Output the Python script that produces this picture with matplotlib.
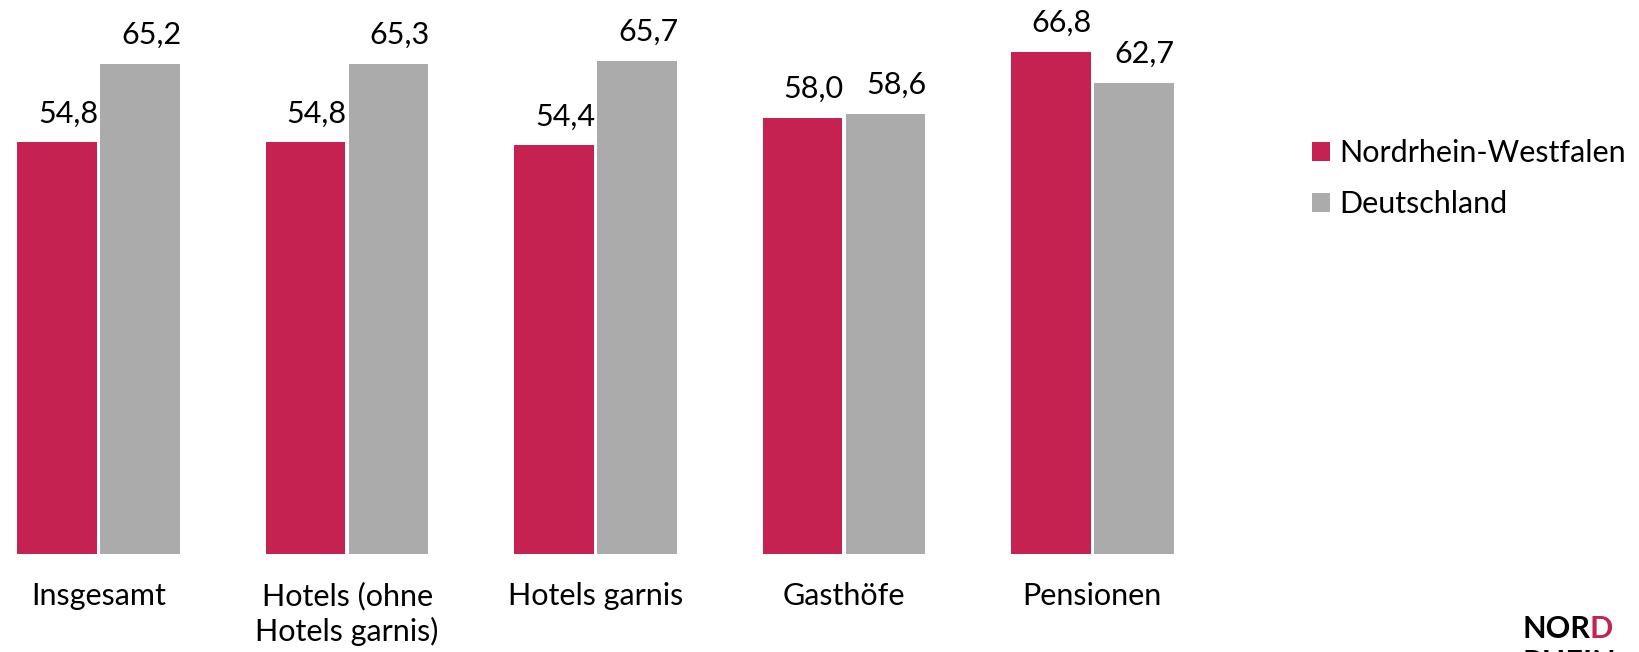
import matplotlib
matplotlib.use("Agg")
from matplotlib import pyplot as plt
import numpy as np

categories = ["Insgesamt", "Hotels (ohne\nHotels garnis)", "Hotels garnis", "Gasthöfe", "Pensionen"]
nrw = [54.8, 54.8, 54.4, 58.0, 66.8]
deutschland = [65.2, 65.3, 65.7, 58.6, 62.7]
series_names = ["Nordrhein-Westfalen", "Deutschland"]

colors = ["#C52252", "#ABABAB"]
plt.rcParams["font.family"] = ["Lato", "DejaVu Sans"]
plt.rcParams["font.size"] = 22

W, H, DPI = 1640, 652, 100
fig = plt.figure(figsize=(W / DPI, H / DPI), dpi=DPI)

# axes spans full width; x data mapped so group centres land where the reference has them
x0_px, step_px, base_px = 98.7, 248.4, 554
px_per_unit = 7.51
ax = fig.add_axes([0, (H - base_px) / H, 1, base_px / H])
ax.set_xlim(-x0_px / step_px, (W - x0_px) / step_px)
ax.set_ylim(0, base_px / px_per_unit)

x = np.arange(len(categories))
width = 0.32
off = 0.167
bars = []
for vals, dx, col, name in [(nrw, -off, colors[0], series_names[0]),
                            (deutschland, off, colors[1], series_names[1])]:
    b = ax.bar(x + dx, vals, width=width, color=col, label=name)
    bars.append(b)
    for xi, v in zip(x + dx, vals):
        ax.annotate(f"{v:.1f}".replace(".", ","), (xi, v), xytext=(8, 14.5),
                    textcoords="offset points", ha="center", va="baseline",
                    fontsize=22, color="black")

ax.set_xticks(x)
ax.set_xticklabels(categories, fontsize=22, linespacing=1.25, va="top")
ax.tick_params(axis="x", length=0, pad=20)
ax.set_yticks([])
for s in ax.spines.values():
    s.set_visible(False)

fig.legend(handles=bars, labels=series_names, loc="center left",
           bbox_to_anchor=(1311.7 / W, 1 - 178.9 / H), frameon=False,
           handlelength=0.6, handleheight=0.6, handletextpad=0.3,
           labelspacing=0.75, borderpad=0, borderaxespad=0, fontsize=22)

# small logo in the corner, second line cut off by the figure edge like the original
t1 = fig.text(1523 / W, 1 - 638 / H, "NOR", fontsize=22, fontweight="bold",
              color="black", ha="left", va="baseline")
fig.canvas.draw()
bb = t1.get_window_extent()
fig.text((bb.x1 - 1) / W, 1 - 638 / H, "D", fontsize=22, fontweight="bold",
         color=colors[0], ha="left", va="baseline")
fig.text(1523 / W, 1 - 672 / H, "RHEIN", fontsize=22, fontweight="bold",
         color="black", ha="left", va="baseline")

fig.savefig("out.png", dpi=DPI)
